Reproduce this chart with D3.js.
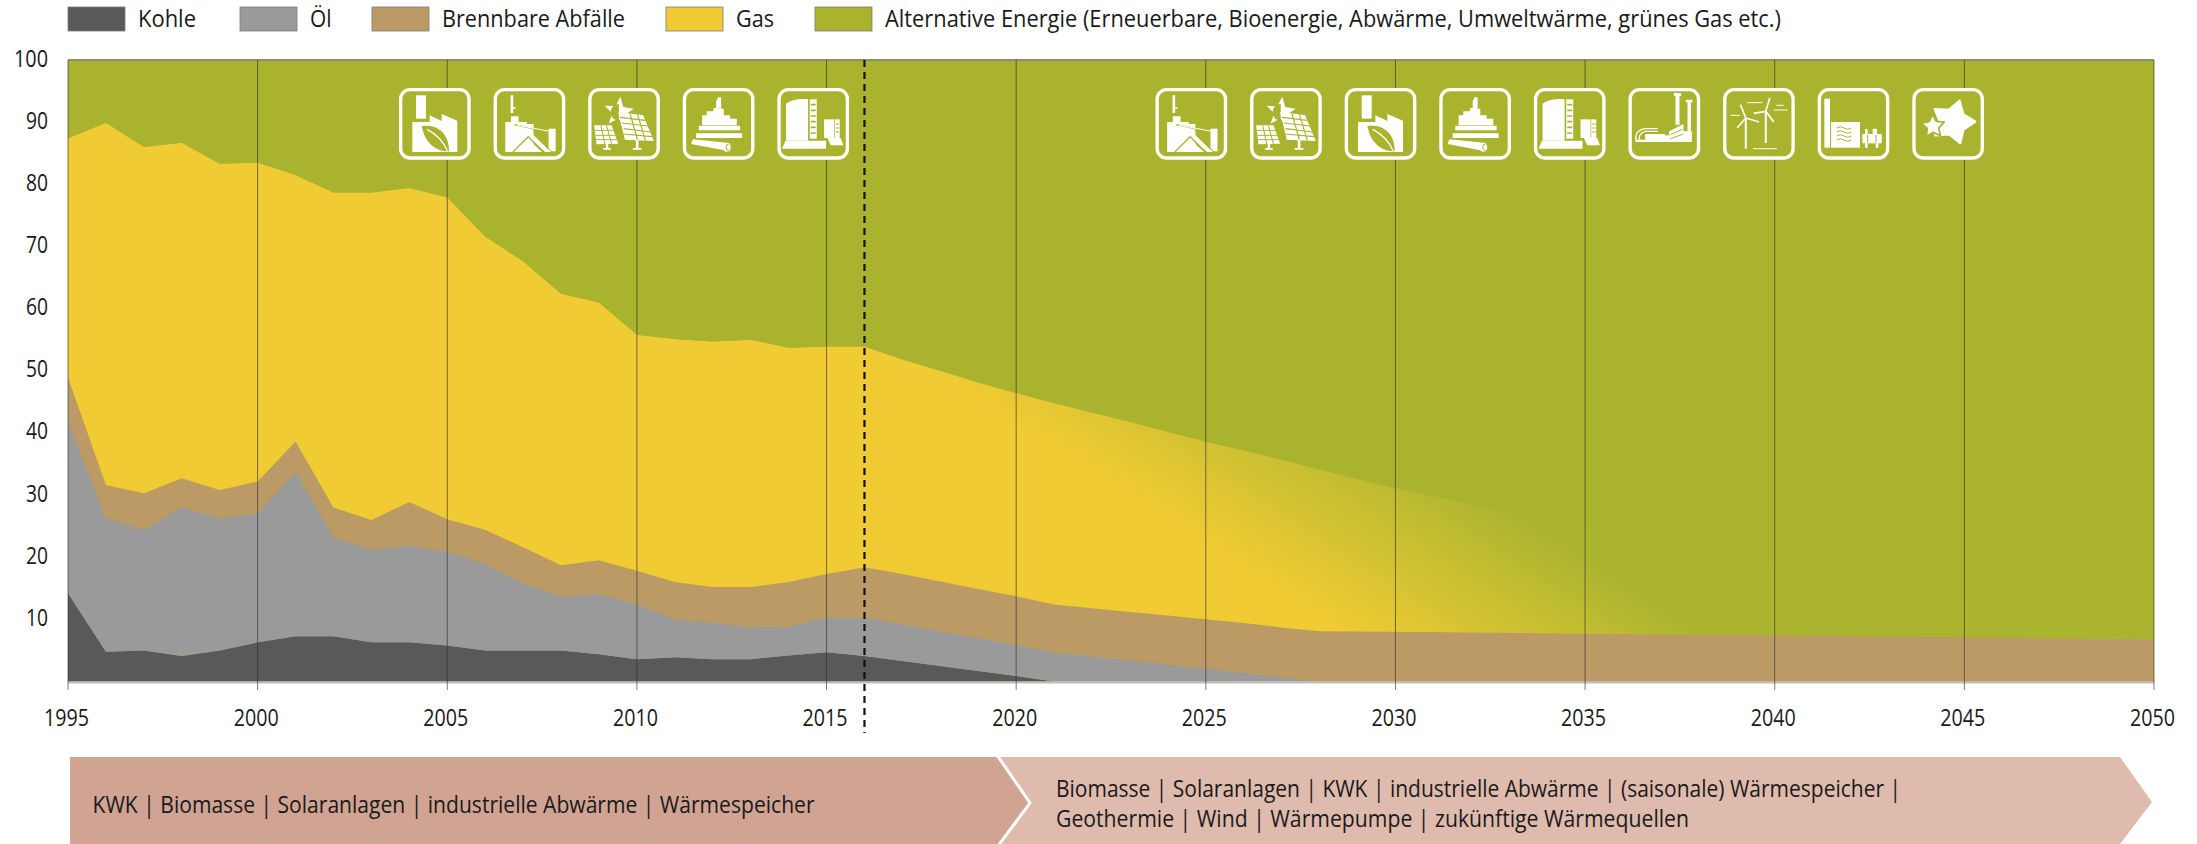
<!DOCTYPE html>
<html lang="de"><head><meta charset="utf-8"><title>Wärmequellen</title>
<script src="https://cdnjs.cloudflare.com/ajax/libs/d3/7.8.5/d3.min.js"></script>
<style>html,body{margin:0;padding:0;background:#fff;overflow:hidden}svg{display:block}
text{font-family:"Open Sans","Noto Sans",sans-serif;fill:#1a1a1a}</style></head><body>
<script>
const years=[1995,1996,1997,1998,1999,2000,2001,2002,2003,2004,2005,2006,2007,2008,2009,2010,2011,2012,2013,2014,2015,2016,2017,2018,2019,2020,2021,2022,2023,2024,2025,2026,2027,2028,2029,2030,2035,2040,2045,2050];
const kohle=[14.2,4.8,5,4.1,5,6.3,7.3,7.3,6.3,6.3,5.8,5,5,5,4.4,3.6,3.9,3.6,3.6,4.2,4.7,4.1,3.3,2.5,1.7,.9,0,0,0,0,0,0,0,0,0,0,0,0,0,0];
const oel=[27.6,21.6,19.4,24,21.3,20.8,26.5,16,14.9,15.6,15.1,13.9,10.8,8.7,9.7,8.9,6.1,5.9,5.1,4.7,5.6,6.2,5.9,5.6,5.3,5,4.7,4.05,3.4,2.75,2.1,1.4,.7,0,0,0,0,0,0,0];
const abfaelle=[7.1,5.2,5.9,4.6,4.5,5.1,4.8,4.7,4.8,7,5.2,5.5,5.8,5,5.4,5.3,6,5.7,6.5,7.1,7,8.1,8.1,8,7.9,7.8,7.7,7.75,7.8,7.85,7.9,8,8,8.1,8.05,8,7.7,7.45,7.1,6.8];
const gas=[38.5,58.3,55.7,54,52.5,51.3,42.9,50.7,52.7,50.5,51.8,47.2,46,43.7,41.5,38,39.1,39.5,39.8,37.7,36.6,35.5,34.5,33.9,33.2,32.7,32.4,31.5,30.6,29.6,28.6,27.8,27,26,24.55,23.1,17,11.55,5.9,0];
const alternativ=[12.6,10.1,14,13.3,16.7,16.5,18.5,21.3,21.3,20.6,22.1,28.4,32.4,37.6,39,44.2,44.9,45.3,45,46.3,46.1,46.1,48.2,50,51.9,53.6,55.2,56.7,58.2,59.8,61.4,62.8,64.3,65.9,67.4,68.9,75.3,81,87,93.2];
const seriesNames=["Kohle","Öl","Brennbare Abfälle","Gas","Alternative Energie (Erneuerbare, Bioenergie, Abwärme, Umweltwärme, grünes Gas etc.)"];
const seriesValues=[kohle,oel,abfaelle,gas,alternativ];
const seriesColors=["#595959","#9b9a9a","#bc9a66","#f1cb33","#a9b32e"];
const xTickValues=[1995,2000,2005,2010,2015,2020,2025,2030,2035,2040,2045,2050];
const yTickValues=[10,20,30,40,50,60,70,80,90,100];
const forecastYear=2016;
const phase1="KWK | Biomasse | Solaranlagen | industrielle Abwärme | Wärmespeicher";
const phase2=["Biomasse | Solaranlagen | KWK | industrielle Abwärme | (saisonale) Wärmespeicher |","Geothermie | Wind | Wärmepumpe | zukünftige Wärmequellen"];
const iconsLeft=["leaf","waste","solar","industry","tank"];
const iconsRight=["waste","solar","leaf","industry","tank","geo","wind","pump","stars"];

const W=2197,H=844,G="#a9b32e";
const svg=d3.select("body").append("svg").attr("width",W).attr("height",H);
const x=d3.scaleLinear().domain([1995,2050]).range([68,2154]);
const y=d3.scaleLinear().domain([0,100]).range([681.5,60]);
const rows=years.map((yr,i)=>{const r={year:yr};seriesNames.forEach((n,k)=>r[n]=seriesValues[k][i]);return r;});
const stacked=d3.stack().keys(seriesNames)(rows);
const defs=svg.append("defs");
const grad=defs.append("linearGradient").attr("id","gasFade").attr("gradientUnits","userSpaceOnUse")
  .attr("x1",940).attr("y1",377).attr("x2",1050).attr("y2",207);
grad.append("stop").attr("offset",0).attr("stop-color","#f1cb33");
grad.append("stop").attr("offset",.45).attr("stop-color","#d2c232");
grad.append("stop").attr("offset",1).attr("stop-color","#aab42f");
const area=d3.area().x(d=>x(d.data.year)).y0(d=>y(d[0])).y1(d=>y(Math.min(d[1],100)));
svg.append("rect").attr("x",x(1995)).attr("y",y(100)).attr("width",x(2050)-x(1995)).attr("height",y(0)-y(100)).attr("fill",G);
svg.append("g").selectAll("path").data(stacked).join("path").attr("d",area)
  .attr("fill",(d,i)=>i===3?"url(#gasFade)":seriesColors[i]);
svg.append("line").attr("x1",x(1995)).attr("x2",x(2050)).attr("y1",y(100)).attr("y2",y(100)).attr("stroke","#8b8f6a").attr("stroke-width",2);
svg.append("line").attr("x1",x(1995)).attr("x2",x(2050)).attr("y1",y(0)+1).attr("y2",y(0)+1).attr("stroke","#bdbdbd").attr("stroke-width",2);
svg.append("g").selectAll("line").data(xTickValues).join("line")
  .attr("x1",d=>x(d)).attr("x2",d=>x(d)).attr("y1",y(100)).attr("y2",690)
  .attr("stroke","#333").attr("stroke-opacity",.65).attr("stroke-width",1);
svg.append("line").attr("x1",x(forecastYear)).attr("x2",x(forecastYear)).attr("y1",y(100)).attr("y2",733)
  .attr("stroke","#111").attr("stroke-width",2.2).attr("stroke-dasharray","7 5");
const ax=svg.append("g").attr("transform","translate(0,704)").call(d3.axisBottom(x).tickValues(xTickValues).tickFormat(d3.format("d")).tickSize(0));
ax.select(".domain").remove();
ax.selectAll("text").attr("y",0).attr("dy","22").style("font-size","23px").style("fill","#1a1a1a")
  .attr("textLength",45).attr("lengthAdjust","spacingAndGlyphs").attr("dx",-2);
const ay=svg.append("g").attr("transform","translate(48,0)").call(d3.axisLeft(y).tickValues(yTickValues).tickSize(0));
ay.select(".domain").remove();
ay.selectAll("text").attr("x",0).attr("dy","6").style("font-size","23px").style("fill","#1a1a1a")
  .attr("textLength",d=>d===100?34:22).attr("lengthAdjust","spacingAndGlyphs");
const legendX=[68,240,372,666,815], legendTextW=[58,21.5,183,38,896];
const lg=svg.append("g").selectAll("g").data(seriesNames).join("g").attr("transform",(d,i)=>`translate(${legendX[i]},7)`);
lg.append("rect").attr("width",57).attr("height",24).attr("fill",(d,i)=>seriesColors[i]).attr("stroke","#7a7a7a").attr("stroke-width",.8);
lg.append("text").attr("x",70).attr("y",20).style("font-size","23px").text(d=>d)
  .attr("textLength",(d,i)=>legendTextW[i]).attr("lengthAdjust","spacingAndGlyphs");
const arrowLine=d3.line();
svg.append("path").attr("d",arrowLine([[70,757],[997,757],[1030,803],[998,844],[70,844]])).attr("fill","#d1a392");
svg.append("path").attr("d",arrowLine([[998,757],[2120,757],[2152,802],[2120,844],[998,844],[1030,803]])).attr("fill","#dfbbae");
svg.append("path").attr("d",arrowLine([[997,755],[1030,803],[998,846]])).attr("fill","none").attr("stroke","#fff").attr("stroke-width",3);
svg.append("text").attr("x",92.5).attr("y",813).style("font-size","24px").text(phase1).attr("textLength",722).attr("lengthAdjust","spacingAndGlyphs");
svg.append("g").selectAll("text").data(phase2).join("text").attr("x",1056).attr("y",(d,i)=>797+i*29.5).style("font-size","24px").text(d=>d)
  .attr("textLength",(d,i)=>i?633:845).attr("lengthAdjust","spacingAndGlyphs");
const W_="#fff";
const p=(d,fill=W_,extra={})=>({d,fill,...extra});
const s=(d,w=4,col=G)=>({d,fill:"none",stroke:col,sw:w});
const wS=(d,w=4)=>s(d,w,W_);
const star=(cx,cy,R,r,rot)=>{let o="";for(let i=0;i<10;i++){const a=rot+i*Math.PI/5,q=i%2?r:R;o+=(i?"L":"M")+(cx+q*Math.sin(a)).toFixed(1)+" "+(cy-q*Math.cos(a)).toFixed(1);}return o+"Z";};
const glyphs={
 leaf:[p("M51 22H81V92H51Z"),p("M40 102H92V82L128 99V78L175 98V192H40Z"),p("M68 114C110 108 150 130 150 190C108 190 78 165 68 114Z",G),wS("M84 124C115 140 135 165 145 188",4)],
 waste:[p("M51 22H59V58H66V62H59V75H51Z"),p("M35 192V102H52V85H75V102H100V108H120V192Z"),s("M62 110L168 132",4),wS("M72 112L180 132",3),p("M165 122H186V190H165Z"),p("M42 192H54L100 146L155 192H172L110 132L90 150Z"),s("M58 192L104 146L150 192",4),p("M62 192L103 154L146 192Z"),s("M118 128L175 192",3)],
 solar:[p(star(92,72,46,20,.1)),p("M92 48A25 25 0 1 0 92 98Z",G),p("M90 72L165 82L197 159L110 155Z"),s("M95 88L172 97M101 105L180 114M106 122L187 132M105 138L192 146M126 78L148 156M148 80L172 158",3.5),p("M143 155H151V180H160V185H134V180H143Z"),p("M18 112L70 112L90 167L25 169Z"),s("M20 127L76 127M22 142L81 142M23 155L86 155M38 112L50 168M55 112L70 168",3),p("M53 168H60V180H68V185H45V180H53Z")],
 industry:[p("M92 60H100V40L106 28H115V62H123V82H142V92H162V112H58V82H72V70H92Z"),p("M48 113H172V127H48Z"),p("M40 136H178V150H40Z"),p("M30 154L140 165V190L25 168Z"),p("M132 165A12 13 0 1 1 132 191A12 13 0 1 1 132 165Z"),s("M138 168A7 9 0 1 0 138 188",3)],
 tank:[p("M26 47C45 34 72 32 92 34V158H26Z"),p("M97 34H118V152H97Z"),s("M100 50H115M100 67H115M100 84H115M100 101H115M100 118H115M100 135H115",5),p("M140 94H170V150H140Z"),p("M172 94H187V150H172Z"),s("M175 108H185M175 120H185M175 132H185",3),p("M24 158H146V182H14Z"),p("M150 150H190L198 172H160Z")],
 geo:[p("M136 15H158V24H153V110H141V24H136Z"),p("M172 35H192V43H187V130H177V43H172Z"),p("M122 130L165 108V130H190V162H122Z"),s("M126 140L162 124M126 152L165 138",3),wS("M22 160V148C22 128 42 122 52 122H88",4),wS("M32 160V150C32 136 46 130 54 130H88",4),p("M50 138H110V162H22V155H50Z"),p("M110 142H122V162H110Z")],
 wind:[wS("M68 92V182",6),wS("M128 72V165",6),wS("M68 90L52 50M68 90L42 120M68 90L108 102",5),wS("M128 70L140 30M128 70L92 76M128 70L152 102",5),wS("M22 82H50M72 44H118M160 52H182M152 66H194M90 182H162",3)],
 pump:[p("M20 32H37V179H20Z"),p("M40 102H127V179H40Z"),s("M57 120Q68 112 79 120T101 120M57 132Q68 124 79 132T101 132M57 144Q68 136 79 144T101 144M57 156Q68 148 79 156T101 156",3),p("M134 138H192V166H134Z"),p("M142 124H150V138H142ZM165 122H178V138H165Z"),p("M142 166H150V179H142ZM174 166H182V179H174Z"),s("M150 140V164M175 140V164",3)],
 stars:[p(star(122,102,66,38,.3),W_,{stroke:W_,sw:8,lj:"round"}),p(star(62,115,36,18,-.05),W_,{stroke:G,sw:5,lj:"round"})]
};
const boxX=d3.scaleLinear().domain([0,1]).range([0,94.6]);
const placed=[...iconsLeft.map((k,i)=>({k,ox:399+boxX(i)})),...iconsRight.map((k,i)=>({k,ox:1155.5+boxX(i)}))];
const ig=svg.append("g").selectAll("g").data(placed).join("g").attr("transform",d=>`translate(${d.ox},88) scale(${1/3})`);
ig.append("rect").attr("x",5).attr("y",5).attr("width",205).attr("height",205).attr("rx",28).attr("fill",G).attr("stroke","#fff").attr("stroke-width",10);
ig.each(function(d){d3.select(this).selectAll("path").data(glyphs[d.k]).join("path").attr("d",g=>g.d)
  .attr("fill",g=>g.fill).attr("stroke",g=>g.stroke||null).attr("stroke-width",g=>g.sw||null).attr("stroke-linejoin",g=>g.lj||null);});
</script></body></html>
